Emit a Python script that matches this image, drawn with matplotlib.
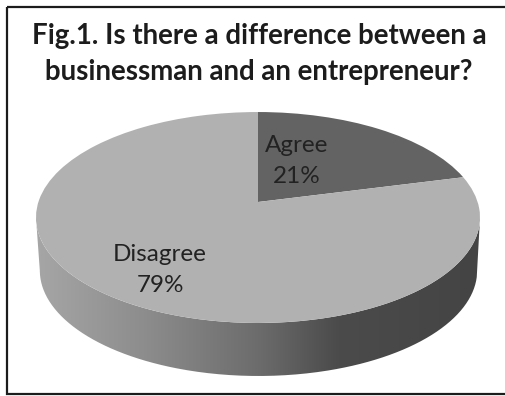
import numpy as np
import matplotlib
matplotlib.use("Agg")
import matplotlib.pyplot as plt
from matplotlib.colors import LinearSegmentedColormap
from matplotlib.patches import PathPatch, Rectangle
from matplotlib.path import Path
from matplotlib.transforms import Transform

TITLE_LINES = ["Fig.1. Is there a difference between a",
               "businessman and an entrepreneur?"]
categories = ["Agree", "Disagree"]
shares = [21, 79]
slice_colors = ["#636363", "#b1b1b1"]
rim_stops = [(0.0, "#a6a6a6"), (0.25, "#8c8c8c"), (0.5, "#6c6c6c"),
             (0.68, "#4b4b4b"), (1.0, "#444444")]

W, H = 505, 396
APEX = (258.0, 202.0)
HALF_W, DEPTH_K, SCALE_Y = 219.6, 0.147, 103.2
RIM_DEPTH = 53.0


class TiltedDisc(Transform):
    """Projects the unit pie disc onto the canvas with a perspective tilt."""
    input_dims = output_dims = 2

    def __init__(self, drop=0.0):
        super().__init__()
        self.drop = drop

    def transform_non_affine(self, values):
        xy = np.asarray(values, dtype=float)
        w = 1 + DEPTH_K * xy[:, 1]
        return np.column_stack([APEX[0] + HALF_W * xy[:, 0] / w,
                                APEX[1] + self.drop - SCALE_Y * xy[:, 1] / w])


def front_arc(ring):
    """Part of a closed ring running from its leftmost to its rightmost point via the bottom."""
    start, stop = ring[:, 0].argmin(), ring[:, 0].argmax()
    rolled = np.roll(ring[:-1], -start, axis=0)
    stop = (stop - start) % (len(ring) - 1)
    arc = rolled[:stop + 1]
    if arc[:, 1].max() < rolled[:, 1].max():
        arc = np.vstack([rolled[stop:], rolled[:1]])[::-1]
    return arc


fig = plt.figure(figsize=(W / 100, H / 100), dpi=100, facecolor="white")
ax = fig.add_axes([0, 0, 1, 1])
wedges, _ = ax.pie(shares, startangle=90, counterclock=False, colors=slice_colors,
                   wedgeprops={"linewidth": 0})
ax.set_aspect("auto")
ax.axis("off")

# Rim of the pie: a horizontal gradient clipped to the swept outline of the disc
t = np.linspace(0, 2 * np.pi, 721)
circle = np.column_stack([np.cos(t), np.sin(t)])
top_ring = TiltedDisc().transform(circle)
low_ring = TiltedDisc(RIM_DEPTH).transform(circle)
low_ring[:, 0] = 258.5 + (low_ring[:, 0] - 258.0) * 0.985
outline = np.vstack([front_arc(top_ring), front_arc(low_ring)[::-1]])
rim = PathPatch(Path(outline), facecolor="none", edgecolor="none")
ax.add_patch(rim)
cmap = LinearSegmentedColormap.from_list("rim", rim_stops)
im = ax.imshow(np.linspace(0, 1, 256)[None, :], cmap=cmap, aspect="auto",
               extent=(36, 481, 390, 100), zorder=0.5)
im.set_clip_path(rim)
ax.set_xlim(0, W)
ax.set_ylim(H, 0)

disc = TiltedDisc()
for wedge in wedges:
    wedge.set_transform(disc + ax.transData)
    wedge.set_zorder(2)

# Border around the whole chart
ax.add_patch(Rectangle((6.5, 6.5), W, 387, facecolor="none", edgecolor="#1c1c1c",
                       linewidth=1.6, zorder=3))

family = ["Lato", "DejaVu Sans"]
for y, line in zip((36, 72), TITLE_LINES):
    ax.text(259, y, line, ha="center", va="center", fontsize=19.9,
            fontweight="bold", family=family, color="#1c1c1c", zorder=4)
for (x, y), name, share in zip([(297, 161), (160, 270)], categories, shares):
    ax.text(x, y, f"{name}\n{share}%", ha="center", va="center", fontsize=17.5,
            family=family, color="#222222", linespacing=1.6, zorder=4)

fig.savefig("out.png", dpi=100)
